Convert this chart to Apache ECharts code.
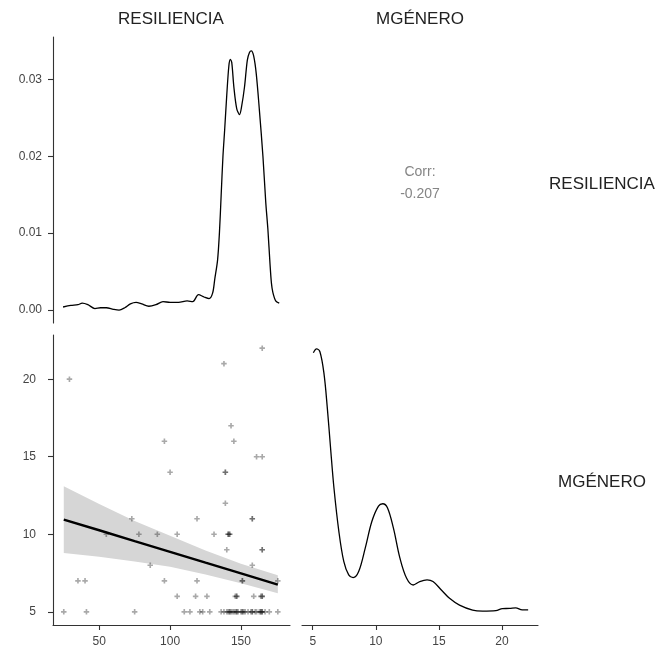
<!DOCTYPE html>
<html>
<head>
<meta charset="utf-8">
<script src="https://cdn.jsdelivr.net/npm/echarts@6/dist/echarts.min.js"></script>
<style>
html,body{margin:0;padding:0;background:#fff;}
#chart{width:660px;height:653px;}
</style>
</head>
<body>
<div id="chart"></div>
<script>
// ---- Data ----
const varNames = ["RESILIENCIA", "MGÉNERO"];
const corrLabel = "Corr:";
const corrValue = "-0.207";

// Scatter: RESILIENCIA (x) vs MGÉNERO (y)
const resil = [25,41,75,110,114,121,123,128,136,138,140,141,142,142,143,144,145,146,147,147,148,150,151,151,152,153,155,157,158,158,160,161,163,164,164,165,165,167,170,176,
  105,118,126,146,147,147,159,164,165,165,
  35,40,96,119,151,151,176,
  86,158,
  140,165,165,
  55,78,91,105,131,141,141,142,142,
  73,119,158,158,
  139,
  100,139,139,
  161,165,
  96,145,
  143,
  29,
  138,
  165];
const mgen = [5,5,5,5,5,5,5,5,5,5,5,5,5,5,5,5,5,5,5,5,5,5,5,5,5,5,5,5,5,5,5,5,5,5,5,5,5,5,5,5,
  6,6,6,6,6,6,6,6,6,6,
  7,7,7,7,7,7,7,
  8,8,
  9,9,9,
  10,10,10,10,10,10,10,10,10,
  11,11,11,11,
  12,
  14,14,14,
  15,15,
  16,16,
  17,
  20,
  21,
  22];

// Linear fit and confidence band
const fitX = [25, 50, 75, 100, 125, 150, 176];
const fitY = [10.95, 10.26, 9.56, 8.87, 8.17, 7.48, 6.75];
const bandLower = [8.8, 8.55, 8.25, 7.9, 7.4, 6.85, 6.2];
const bandUpper = [13.1, 11.95, 10.85, 9.9, 8.95, 8.1, 7.35];

// Density of RESILIENCIA (diagonal, top-left)
const densResX = [24.5,30,35,38,42,47,51,55,60,64,68,72,76,80,85,90,95,100,106,112,116,120,124,127.5,130,131.5,133.5,134.8,136,137.3,138.5,140,141.5,142.5,143.5,145,147,149,150.5,152.5,154.5,156,157.3,159,160.8,163,165.5,167.5,169,170.5,171.5,172.5,174.5,177];
const densResY = [0.0004,0.0006,0.0007,0.0009,0.0007,0.0002,0.0003,0.0003,0.0001,0.0000,0.0003,0.0008,0.0010,0.0008,0.0005,0.0007,0.0011,0.0010,0.0010,0.0012,0.0011,0.0020,0.0017,0.0015,0.0022,0.0040,0.0065,0.0100,0.0148,0.0200,0.0234,0.0280,0.0318,0.0326,0.0322,0.0290,0.0262,0.0254,0.0265,0.0290,0.0325,0.0335,0.0337,0.0330,0.0307,0.0260,0.0200,0.0140,0.0105,0.0060,0.0035,0.0023,0.0012,0.0009];

// Density of MGÉNERO (diagonal, bottom-right), rescaled to the MGÉNERO range
const densMgX = [5.05,5.3,5.57,5.89,6.15,6.41,6.68,7.07,7.46,7.85,8.2,8.64,9.16,9.69,10.21,10.55,10.92,11.39,11.91,12.44,12.96,13.48,14.06,14.53,15.19,15.84,16.63,17.67,18.46,19.51,20.03,20.6,21.08,21.6,22.07];
const densMgY = [21.7,21.95,21.77,20.37,18.2,15.6,13.0,10.19,8.25,7.38,7.21,7.6,9.11,10.84,11.82,11.97,11.71,10.41,8.46,7.16,6.73,6.95,7.06,6.95,6.41,5.87,5.43,5.11,5.05,5.08,5.21,5.22,5.26,5.13,5.13];

// Tick values
const resTicks = [50, 100, 150];
const mgTicks = [5, 10, 15, 20];
const densTicks = [0, 0.01, 0.02, 0.03];

// ---- Chart ----
const FONT = "'Liberation Sans', Arial, sans-serif";
const axisColor = "#333333";
const labelColor = "#444444";

function valAxis(gridIndex, min, max, ticks, opts) {
  opts = opts || {};
  return {
    type: "value", gridIndex, min, max,
    show: opts.show !== false,
    axisLine: { show: opts.line !== false, lineStyle: { color: axisColor, width: 1.1 } },
    axisTick: { show: opts.line !== false, length: 5, lineStyle: { color: axisColor, width: 1.1 }, customValues: ticks },
    axisLabel: {
      show: opts.line !== false, customValues: ticks, color: labelColor, fontSize: 12, fontFamily: FONT,
      margin: opts.margin || 10, formatter: opts.formatter
    },
    splitLine: { show: false }
  };
}

const chart = echarts.init(document.getElementById("chart"), null, { renderer: "canvas" });

const scatterData = resil.map((x, i) => [x, mgen[i]]);
const fitData = fitX.map((x, i) => [x, fitY[i]]);

const option = {
  animation: false,
  backgroundColor: "#ffffff",
  grid: [
    { left: 53, top: 37, width: 237, height: 286 },
    { left: 53, top: 335, width: 237, height: 290 },
    { left: 302, top: 335, width: 236, height: 290 }
  ],
  xAxis: [
    valAxis(0, 17.4, 184.6, resTicks, { line: false }),
    valAxis(1, 17.4, 184.6, resTicks, { margin: 11 }),
    valAxis(2, 4.15, 22.85, mgTicks, { margin: 11 })
  ],
  yAxis: [
    valAxis(0, -0.00168, 0.0355, densTicks, { margin: 11, formatter: v => v.toFixed(2) }),
    valAxis(1, 4.15, 22.85, mgTicks, { margin: 17 }),
    valAxis(2, 4.15, 22.85, mgTicks, { line: false })
  ],
  series: [
    {
      type: "line", xAxisIndex: 0, yAxisIndex: 0,
      data: densResX.map((x, i) => [x, densResY[i]]),
      smooth: 0.3, showSymbol: false, symbol: "none",
      lineStyle: { color: "#000", width: 1.3 }
    },
    {
      type: "custom", xAxisIndex: 1, yAxisIndex: 1, z: 1,
      data: [[fitX[0], bandLower[0]]],
      renderItem: function (params, api) {
        const pts = [];
        for (let i = 0; i < fitX.length; i++) pts.push(api.coord([fitX[i], bandUpper[i]]));
        for (let i = fitX.length - 1; i >= 0; i--) pts.push(api.coord([fitX[i], bandLower[i]]));
        return { type: "polygon", shape: { points: pts }, style: { fill: "#d6d6d6" } };
      }
    },
    {
      type: "scatter", xAxisIndex: 1, yAxisIndex: 1, z: 3,
      data: scatterData,
      symbol: "path://M3.5,0 L6.5,0 L6.5,3.5 L10,3.5 L10,6.5 L6.5,6.5 L6.5,10 L3.5,10 L3.5,6.5 L0,6.5 L0,3.5 L3.5,3.5 Z",
      symbolSize: 5.5,
      itemStyle: { color: "rgba(0,0,0,0.42)" }
    },
    {
      type: "line", xAxisIndex: 1, yAxisIndex: 1, z: 4,
      data: fitData, showSymbol: false, symbol: "none",
      lineStyle: { color: "#000", width: 2.4 }
    },
    {
      type: "line", xAxisIndex: 2, yAxisIndex: 2,
      data: densMgX.map((x, i) => [x, densMgY[i]]),
      smooth: 0.35, showSymbol: false, symbol: "none",
      lineStyle: { color: "#000", width: 1.3 }
    }
  ],
  graphic: [
    { type: "text", x: 171, y: 19, style: { text: varNames[0], font: "17px " + FONT, fill: "#222", align: "center", verticalAlign: "middle" } },
    { type: "text", x: 420, y: 19, style: { text: varNames[1], font: "17px " + FONT, fill: "#222", align: "center", verticalAlign: "middle" } },
    { type: "text", x: 602, y: 184, style: { text: varNames[0], font: "17px " + FONT, fill: "#222", align: "center", verticalAlign: "middle" } },
    { type: "text", x: 602, y: 482, style: { text: varNames[1], font: "17px " + FONT, fill: "#222", align: "center", verticalAlign: "middle" } },
    { type: "text", x: 420, y: 172, style: { text: corrLabel, font: "14px " + FONT, fill: "#858585", align: "center", verticalAlign: "middle" } },
    { type: "text", x: 420, y: 194, style: { text: corrValue, font: "14px " + FONT, fill: "#858585", align: "center", verticalAlign: "middle" } }
  ]
};
chart.setOption(option);
</script>
</body>
</html>
